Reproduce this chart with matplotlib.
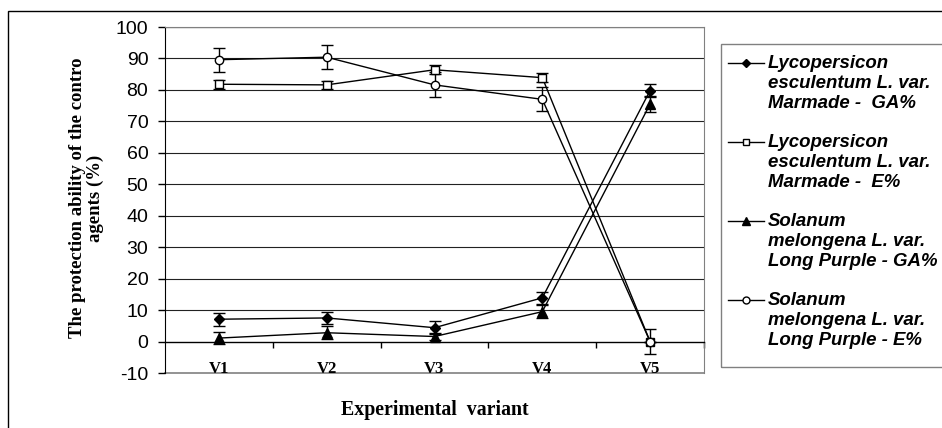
import matplotlib
matplotlib.use("Agg")
import matplotlib.pyplot as plt
from matplotlib.patches import Rectangle
from matplotlib.lines import Line2D

plt.rcParams["axes.unicode_minus"] = False

categories = ["V1", "V2", "V3", "V4", "V5"]
labels = [
    ["Lycopersicon", "esculentum L. var.", "Marmade -  GA%"],
    ["Lycopersicon", "esculentum L. var.", "Marmade -  E%"],
    ["Solanum", "melongena L. var.", "Long Purple - GA%"],
    ["Solanum", "melongena L. var.", "Long Purple - E%"],
]
tomato_ga = [7.1, 7.5, 4.4, 13.9, 79.8]
tomato_ga_err = [2.0, 2.0, 2.0, 2.0, 2.0]
tomato_e = [81.8, 81.6, 86.4, 83.9, 0.0]
tomato_e_err = [1.5, 1.2, 1.5, 1.5, 0.0]
egg_ga = [1.1, 2.8, 1.6, 9.5, 75.5]
egg_ga_err = [2.0, 2.0, 1.0, 2.0, 2.5]
egg_e = [89.6, 90.4, 81.6, 77.0, 0.0]
egg_e_err = [3.8, 3.8, 4.0, 3.8, 4.0]

W, H = 942, 428
fig = plt.figure(figsize=(W / 100, H / 100), dpi=100)
ax = fig.add_axes([165 / W, 1 - 373 / H, (704 - 165) / W, (373 - 27) / H])

x = list(range(len(categories)))
series = [
    (tomato_ga, tomato_ga_err, "D", "black", 5),
    (tomato_e, tomato_e_err, "s", "white", 6),
    (egg_ga, egg_ga_err, "^", "black", 7),
    (egg_e, egg_e_err, "o", "white", 6),
]
for vals, err, mk, fc, ms in series:
    ax.errorbar(x, vals, yerr=err, color="black", lw=1.0, marker=mk,
                markersize=ms, markerfacecolor=fc, markeredgecolor="black",
                markeredgewidth=1.0, ecolor="black", elinewidth=1.0,
                capsize=4, capthick=1.0, zorder=3)

ax.set_xlim(-0.5, 4.5)
ax.set_ylim(-10, 100)
ax.set_yticks(range(-10, 101, 10))
for v in range(10, 100, 10):
    ax.axhline(v, color="#222222", lw=0.8, zorder=1)
ax.axhline(100, color="#808080", lw=1.0, zorder=1)

ax.spines["top"].set_color("#808080")
ax.spines["right"].set_color("#808080")
ax.spines["left"].set_color("black")
ax.spines["bottom"].set_position(("data", 0))
ax.spines["bottom"].set_color("black")
ax.spines["bottom"].set_linewidth(1.0)
ax.axhline(-10, color="#808080", lw=1.2, zorder=1, clip_on=False)

ax.set_xticks(x)
ax.set_xticklabels(categories, fontfamily="Liberation Serif", fontweight="bold", fontsize=12)
ax.set_xticks([0.5, 1.5, 2.5, 3.5, 4.5], minor=True)
ax.tick_params(axis="x", which="major", length=0, pad=14)
ax.tick_params(axis="x", which="minor", length=4, direction="out", width=1)
ax.tick_params(axis="y", length=5, direction="out", width=1, pad=7)
for t in ax.get_yticklabels():
    t.set_fontfamily("Liberation Sans")
    t.set_fontsize(14)

ax.set_ylabel("The protection ability of the contro\nagents (%)",
              fontfamily="Liberation Serif", fontweight="bold", fontsize=13.5,
              linespacing=1.05)
ax.yaxis.set_label_coords(-0.113, 0.506)
fig.text(435 / W, 1 - 410 / H, "Experimental  variant", ha="center", va="center",
         fontfamily="Liberation Serif", fontweight="bold", fontsize=14.3)

# legend (manual, Excel-like: handle aligned with first text line)
def fx(px):
    return px / W

def fy(py):
    return 1 - py / H

fig.patches.append(Rectangle((fx(721), fy(367)), 1.0, (367 - 44) / H,
                             transform=fig.transFigure, fill=False,
                             edgecolor="#808080", lw=1.0))
markers = [("D", "black", 4), ("s", "white", 5), ("^", "black", 6), ("o", "white", 5)]
entry_top = [62, 141, 220, 299]
for (mk, fc, ms), lines, y0 in zip(markers, labels, entry_top):
    fig.lines.append(Line2D([fx(728), fx(764)], [fy(y0 + 1), fy(y0 + 1)],
                            transform=fig.transFigure, color="black", lw=1.0))
    fig.lines.append(Line2D([fx(746)], [fy(y0 + 1)], transform=fig.transFigure,
                            marker=mk, markersize=ms, markerfacecolor=fc,
                            markeredgecolor="black", markeredgewidth=1.0, lw=0))
    for i, line in enumerate(lines):
        fig.text(fx(768), fy(y0 + 20 * i + 6), line, ha="left", va="baseline",
                 fontfamily="Liberation Sans", fontweight="bold", style="italic",
                 fontsize=13.4)

fig.patches.append(Rectangle((8 / W, -0.1), 1.2, 1.1 - 11 / H, transform=fig.transFigure,
                             fill=False, edgecolor="black", lw=1.0))

fig.savefig("out.png", dpi=100)
